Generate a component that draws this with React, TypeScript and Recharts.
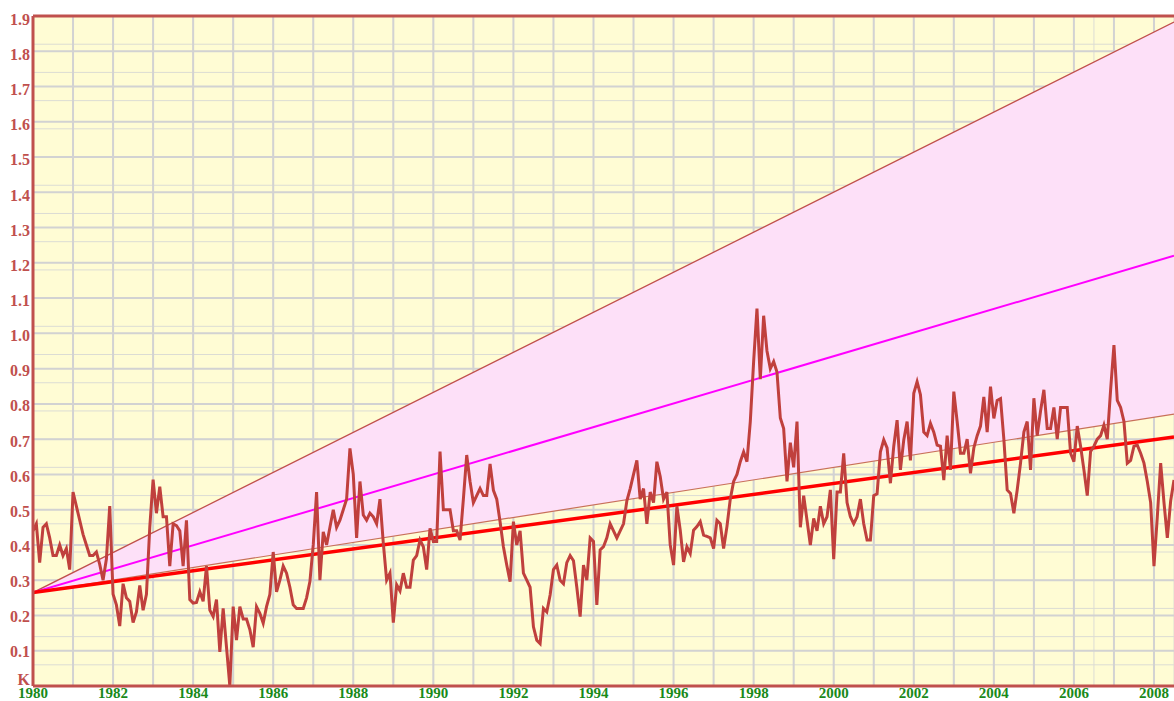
import {
  ComposedChart,
  Line,
  Area,
  XAxis,
  YAxis,
  CartesianGrid,
  ReferenceLine,
} from 'recharts';

// monthly anomaly, Jan 1980 .. Jul 2008 (K)
const START_YEAR = 1980;
const temps = [
  // 1980
  0.44, 0.46, 0.35, 0.45, 0.46, 0.42, 0.37, 0.37, 0.40, 0.37, 0.39, 0.33,
  // 1981
  0.55, 0.51, 0.47, 0.43, 0.40, 0.37, 0.37, 0.38, 0.345, 0.30, 0.36, 0.51,
  // 1982
  0.26, 0.23, 0.17, 0.29, 0.25, 0.24, 0.18, 0.21, 0.285, 0.215, 0.26, 0.45,
  // 1983
  0.585, 0.49, 0.565, 0.48, 0.48, 0.34, 0.46, 0.455, 0.44, 0.34, 0.47, 0.245,
  // 1984
  0.235, 0.237, 0.267, 0.24, 0.34, 0.215, 0.197, 0.245, 0.097, 0.22, 0.11, 0.0,
  // 1985
  0.225, 0.13, 0.225, 0.19, 0.19, 0.16, 0.11, 0.225, 0.206, 0.178, 0.225, 0.26,
  // 1986
  0.38, 0.267, 0.30, 0.34, 0.32, 0.28, 0.23, 0.22, 0.22, 0.22, 0.25, 0.296,
  // 1987
  0.40, 0.55, 0.30, 0.437, 0.40, 0.45, 0.50, 0.45, 0.47, 0.50, 0.53, 0.674,
  // 1988
  0.60, 0.42, 0.58, 0.485, 0.47, 0.49, 0.48, 0.46, 0.53, 0.405, 0.30, 0.32,
  // 1989
  0.18, 0.287, 0.27, 0.32, 0.28, 0.28, 0.357, 0.37, 0.414, 0.395, 0.33, 0.447,
  // 1990
  0.41, 0.41, 0.665, 0.50, 0.50, 0.50, 0.44, 0.44, 0.414, 0.53, 0.655, 0.58,
  // 1991
  0.52, 0.54, 0.56, 0.54, 0.54, 0.63, 0.555, 0.53, 0.466, 0.395, 0.343, 0.296,
  // 1992
  0.466, 0.40, 0.44, 0.32, 0.30, 0.28, 0.168, 0.13, 0.12, 0.22, 0.21, 0.258,
  // 1993
  0.33, 0.343, 0.30, 0.29, 0.35, 0.37, 0.355, 0.28, 0.197, 0.343, 0.30, 0.42,
  // 1994
  0.41, 0.23, 0.386, 0.395, 0.42, 0.46, 0.44, 0.42, 0.44, 0.46, 0.525, 0.56,
  // 1995
  0.60, 0.64, 0.53, 0.56, 0.46, 0.55, 0.52, 0.636, 0.594, 0.53, 0.55, 0.40,
  // 1996
  0.343, 0.51, 0.442, 0.352, 0.395, 0.376, 0.442, 0.452, 0.466, 0.428, 0.424, 0.42,
  // 1997
  0.39, 0.47, 0.46, 0.39, 0.452, 0.53, 0.58, 0.60, 0.636, 0.664, 0.636, 0.75,
  // 1998
  0.92, 1.07, 0.87, 1.05, 0.95, 0.90, 0.92, 0.89, 0.76, 0.73, 0.58, 0.69,
  // 1999
  0.62, 0.75, 0.45, 0.54, 0.47, 0.40, 0.475, 0.44, 0.51, 0.46, 0.48, 0.556,
  // 2000
  0.36, 0.55, 0.55, 0.66, 0.52, 0.48, 0.46, 0.48, 0.53, 0.46, 0.414, 0.414,
  // 2001
  0.54, 0.545, 0.664, 0.698, 0.675, 0.575, 0.68, 0.754, 0.613, 0.698, 0.75, 0.64,
  // 2002
  0.83, 0.863, 0.826, 0.72, 0.71, 0.745, 0.72, 0.683, 0.68, 0.584, 0.71, 0.613,
  // 2003
  0.835, 0.75, 0.66, 0.66, 0.70, 0.603, 0.675, 0.71, 0.737, 0.82, 0.72, 0.849,
  // 2004
  0.759, 0.81, 0.815, 0.70, 0.556, 0.546, 0.49, 0.556, 0.632, 0.72, 0.75, 0.613,
  // 2005
  0.816, 0.71, 0.78, 0.84, 0.73, 0.73, 0.79, 0.70, 0.79, 0.79, 0.79, 0.66,
  // 2006
  0.636, 0.737, 0.68, 0.613, 0.54, 0.665, 0.68, 0.70, 0.71, 0.74, 0.70, 0.84,
  // 2007
  0.967, 0.81, 0.79, 0.75, 0.632, 0.64, 0.68, 0.683, 0.66, 0.632, 0.58, 0.52,
  // 2008
  0.34, 0.48, 0.632, 0.52, 0.42, 0.525, 0.584,
];

// straight projection lines: [value at start, value at end]
const lineYears = [1980, 2008.5];
const upperLine = [0.265, 1.883];
const middleLine = [0.265, 1.22];
const lowerLine = [0.265, 0.771];
const trendLine = [0.265, 0.706];

const xTicks = [1980, 1982, 1984, 1986, 1988, 1990, 1992, 1994, 1996, 1998, 2000, 2002, 2004, 2006, 2008];
const yTicks = [0, 0.1, 0.2, 0.3, 0.4, 0.5, 0.6, 0.7, 0.8, 0.9, 1.0, 1.1, 1.2, 1.3, 1.4, 1.5, 1.6, 1.7, 1.8, 1.9];

const monthly = temps.map((t, i) => ({ x: START_YEAR + i / 12, t }));

const makeLine = (vals: number[]) => lineYears.map((x, i) => ({ x, v: vals[i] }));
const band = lineYears.map((x, i) => ({ x, r: [lowerLine[i], upperLine[i]] }));

// grid positions
const minorX: number[] = [];
for (let q = 0; q <= 28.5 * 4; q++) minorX.push(START_YEAR + q / 4);
const majorX: number[] = [];
for (let y = 0; y <= 28; y++) majorX.push(START_YEAR + y);
const minorY: number[] = [];
for (let j = 0; j <= 95; j++) minorY.push(j * 0.02);

const RED = '#c0504d';
const FONT = '"Liberation Serif", "Times New Roman", serif';

// y labels: "K" sits above the zero line, the others a touch below their line
function YTick(props: any) {
  const { x, y, payload } = props;
  const v = payload.value as number;
  const label = v === 0 ? 'K' : v.toFixed(1);
  const shift = v === 0 ? -7 : 1 + v * 1.2;
  return (
    <text
      x={x}
      y={y + shift}
      dy="0.35em"
      textAnchor="end"
      fill={RED}
      fontSize={16}
      fontWeight="bold"
      fontFamily={FONT}
    >
      {label}
    </text>
  );
}

export default function App() {
  return (
    <div style={{ position: 'absolute', left: 0, top: 0 }}>
      <ComposedChart
        width={1174}
        height={701}
        data={monthly}
        margin={{ top: 16, right: 0, left: 0, bottom: 0 }}
      >
        <CartesianGrid fill="#fffcd4" fillOpacity={1} horizontal={false} vertical={false} />
        <Area
          data={band}
          dataKey="r"
          type="linear"
          stroke="none"
          fill="#fde0f8"
          fillOpacity={1}
          isAnimationActive={false}
        />
        <CartesianGrid stroke="#dcdcd4" strokeWidth={1} verticalValues={minorX} horizontalValues={minorY} />
        <CartesianGrid stroke="#d2d2d2" strokeWidth={2} verticalValues={majorX} horizontalValues={yTicks} />
        <XAxis
          type="number"
          dataKey="x"
          domain={[1980, 2008.5]}
          ticks={xTicks}
          allowDataOverflow
          height={15}
          tickLine={false}
          tickSize={0}
          tickMargin={1}
          axisLine={{ stroke: RED, strokeWidth: 3 }}
          tick={{ fill: '#1a8a1a', fontSize: 15, fontWeight: 'bold', fontFamily: FONT }}
        />
        <YAxis
          type="number"
          domain={[0, 1.9]}
          ticks={yTicks}
          width={33}
          tickLine={false}
          tickSize={0}
          tickMargin={3}
          axisLine={{ stroke: RED, strokeWidth: 3 }}
          tick={<YTick />}
        />
        <ReferenceLine y={1.9} stroke={RED} strokeWidth={3} />
        <Line data={makeLine(upperLine)} dataKey="v" type="linear" stroke={RED} strokeWidth={1.3} dot={false} isAnimationActive={false} />
        <Line data={makeLine(lowerLine)} dataKey="v" type="linear" stroke="#c8705a" strokeWidth={1.2} dot={false} isAnimationActive={false} />
        <Line data={makeLine(middleLine)} dataKey="v" type="linear" stroke="#ff00ff" strokeWidth={2} dot={false} isAnimationActive={false} />
        <Line data={makeLine(trendLine)} dataKey="v" type="linear" stroke="#ff0000" strokeWidth={3.5} dot={false} isAnimationActive={false} />
        <Line dataKey="t" type="linear" stroke="#c0403d" strokeWidth={3} dot={false} isAnimationActive={false} />
      </ComposedChart>
    </div>
  );
}
